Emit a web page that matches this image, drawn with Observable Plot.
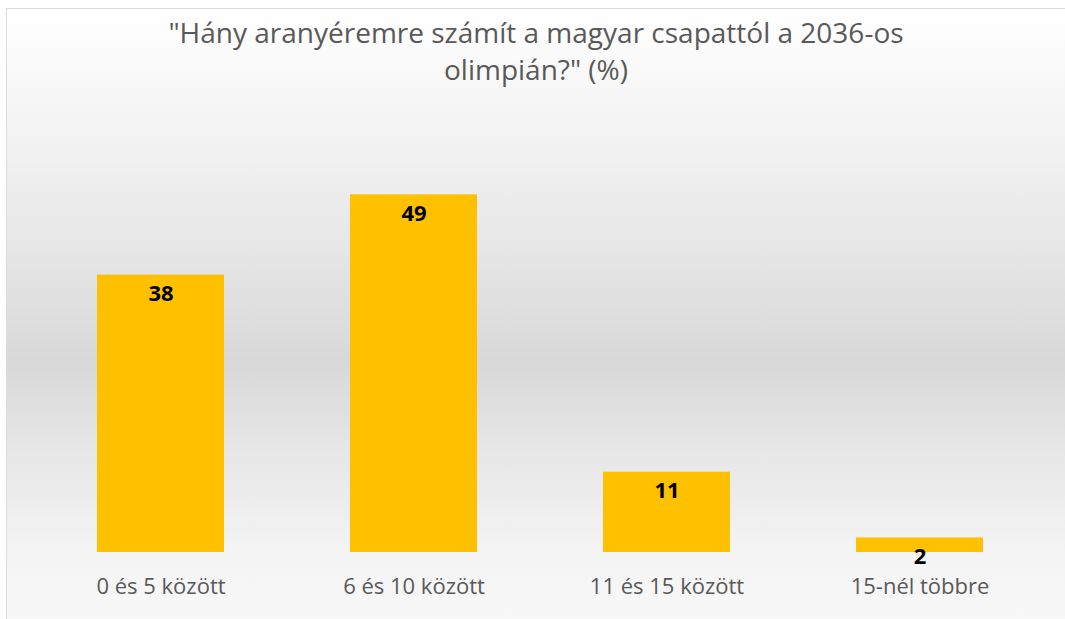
<!DOCTYPE html>
<html><head><meta charset="utf-8">
<script src="https://cdn.jsdelivr.net/npm/d3@7"></script>
<script src="https://cdn.jsdelivr.net/npm/@observablehq/plot@0.6"></script>
<style>
body{margin:0;background:#fff;}
#frame{position:absolute;left:6px;top:8px;width:1059px;height:611px;box-sizing:border-box;border-left:1px solid #dcdcdc;border-top:1px solid #dcdcdc;
background:linear-gradient(#ffffff 0%, #f0f0f0 25%, #e2e2e2 45%, #d8d8d8 58%, #e6e6e6 72%, #f3f3f3 88%, #f8f8f8 100%);font-family:"Open Sans", Lato, sans-serif;}
#title{height:100px;text-align:center;color:#595959;font-size:28px;line-height:37px;padding-top:5px;box-sizing:border-box;}
#chart svg{display:block;}
</style></head>
<body>
<div id="frame"><div id="title"></div><div id="chart"></div></div>
<script>
const titleLines = ["\"Hány aranyéremre számít a magyar csapattól a 2036-os", "olimpián?\" (%)"];
const categories = ["0 és 5 között", "6 és 10 között", "11 és 15 között", "15-nél többre"];
const values = [38, 49, 11, 2];

document.getElementById("title").innerHTML = titleLines.map(s => s.replace(/&/g,"&amp;").replace(/</g,"&lt;")).join("<br>");
const data = categories.map((c, i) => ({category: c, value: values[i]}));

const chart = Plot.plot({
  width: 1058, height: 510,
  marginTop: 5, marginBottom: 67, marginLeft: 25, marginRight: 18,
  style: {background: "transparent", fontFamily: "'Open Sans', Lato, sans-serif"},
  x: {domain: categories, paddingInner: 0.5, paddingOuter: 0.25, label: null},
  y: {domain: [0, 60], axis: null},
  marks: [
    Plot.barY(data, {x: "category", y: "value", fill: "#FFC000"}),
    Plot.text(data, {x: "category", y: "value", text: d => String(d.value), dy: 19, fontWeight: "bold", fontSize: 22, fill: "#000"}),
    Plot.axisX({tickSize: 0, tickPadding: 26, fontSize: 22, fill: "#595959", label: null})
  ]
});
document.getElementById("chart").appendChild(chart);
</script>
</body></html>
